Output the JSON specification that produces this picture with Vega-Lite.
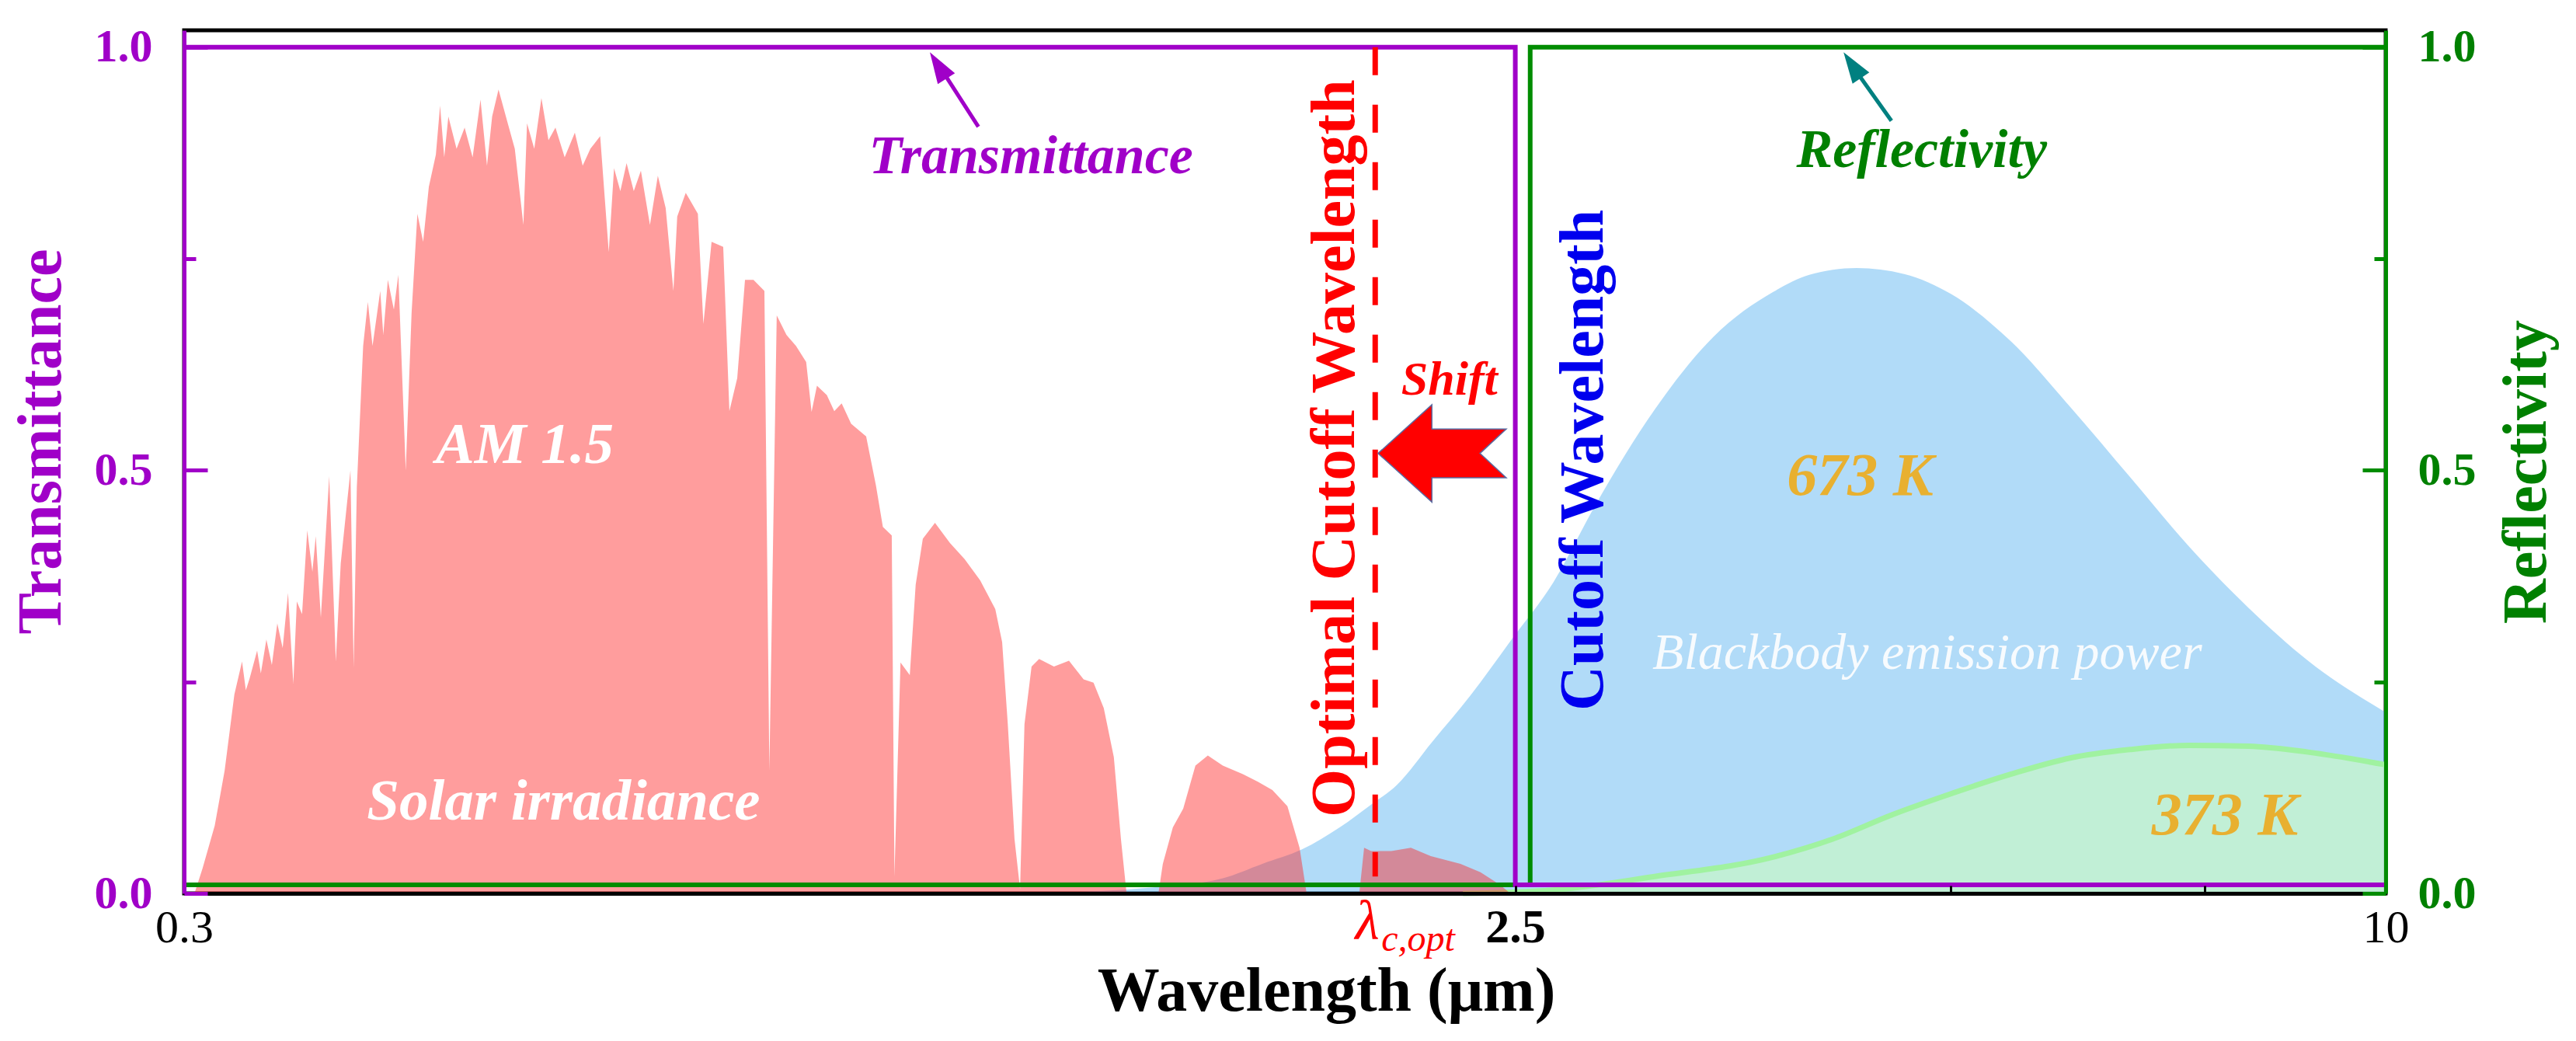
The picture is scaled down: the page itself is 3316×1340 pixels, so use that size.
{
  "$schema": "https://vega.github.io/schema/vega-lite/v6.json",
  "width": 2834,
  "height": 1111,
  "autosize": {"type": "none"},
  "padding": {"left": 237, "top": 39, "right": 245, "bottom": 190},
  "background": "white",
  "config": {"view": {"stroke": "black", "strokeWidth": 5}, "font": "Liberation Serif"},
  "datasets": {
    "trans": [{"i": 1, "x": 0.3, "y": 1}, {"i": 2, "x": 2.5, "y": 1}, {"i": 3, "x": 2.5, "y": 0.01}, {"i": 4, "x": 10, "y": 0.01}],
    "refl": [{"i": 1, "x": 0.3, "y": 0.01}, {"i": 2, "x": 2.56, "y": 0.01}, {"i": 3, "x": 2.56, "y": 1}, {"i": 4, "x": 10, "y": 1}],
    "bb673": [
      {"x": 1.2, "y": 0.001}, {"x": 1.4, "y": 0.007}, {"x": 1.569, "y": 0.018}, {"x": 1.671, "y": 0.035},
      {"x": 1.78, "y": 0.052}, {"x": 1.89, "y": 0.078}, {"x": 1.987, "y": 0.105}, {"x": 2.07, "y": 0.128},
      {"x": 2.19, "y": 0.179}, {"x": 2.328, "y": 0.234}, {"x": 2.48, "y": 0.298}, {"x": 2.657, "y": 0.368},
      {"x": 2.838, "y": 0.458}, {"x": 3.122, "y": 0.572}, {"x": 3.429, "y": 0.658}, {"x": 3.772, "y": 0.711},
      {"x": 3.993, "y": 0.731}, {"x": 4.305, "y": 0.739}, {"x": 4.644, "y": 0.732}, {"x": 5.008, "y": 0.708},
      {"x": 5.508, "y": 0.652}, {"x": 6.05, "y": 0.575}, {"x": 6.655, "y": 0.492}, {"x": 7.311, "y": 0.41},
      {"x": 8.043, "y": 0.337}, {"x": 8.837, "y": 0.275}, {"x": 10, "y": 0.214}
    ],
    "bb373": [
      {"x": 2.3, "y": 0.0}, {"x": 2.654, "y": 0.004}, {"x": 3.122, "y": 0.02}, {"x": 3.772, "y": 0.043},
      {"x": 4.142, "y": 0.064}, {"x": 4.557, "y": 0.093}, {"x": 5.008, "y": 0.118}, {"x": 5.508, "y": 0.141},
      {"x": 6.05, "y": 0.16}, {"x": 6.655, "y": 0.17}, {"x": 7.311, "y": 0.175}, {"x": 8.043, "y": 0.174},
      {"x": 8.837, "y": 0.167}, {"x": 10, "y": 0.152}
    ],
    "solar": [
      {"x": 0.3, "y": 0}, {"x": 0.305, "y": 0}, {"x": 0.309, "y": 0.03}, {"x": 0.315, "y": 0.08},
      {"x": 0.32, "y": 0.145}, {"x": 0.325, "y": 0.235}, {"x": 0.329, "y": 0.274}, {"x": 0.331, "y": 0.24}, {"x": 0.333, "y": 0.254},
      {"x": 0.337, "y": 0.287}, {"x": 0.339, "y": 0.26}, {"x": 0.342, "y": 0.3}, {"x": 0.345, "y": 0.27}, {"x": 0.348, "y": 0.319}, {"x": 0.351, "y": 0.29}, {"x": 0.354, "y": 0.355},
      {"x": 0.357, "y": 0.248}, {"x": 0.359, "y": 0.345}, {"x": 0.362, "y": 0.33}, {"x": 0.365, "y": 0.429}, {"x": 0.368, "y": 0.38}, {"x": 0.37, "y": 0.422},
      {"x": 0.373, "y": 0.326}, {"x": 0.378, "y": 0.493}, {"x": 0.382, "y": 0.274}, {"x": 0.385, "y": 0.39},
      {"x": 0.391, "y": 0.5}, {"x": 0.393, "y": 0.267}, {"x": 0.395, "y": 0.48}, {"x": 0.399, "y": 0.647},
      {"x": 0.402, "y": 0.699}, {"x": 0.405, "y": 0.647}, {"x": 0.41, "y": 0.712}, {"x": 0.412, "y": 0.66}, {"x": 0.415, "y": 0.725},
      {"x": 0.419, "y": 0.69}, {"x": 0.422, "y": 0.731}, {"x": 0.427, "y": 0.5}, {"x": 0.431, "y": 0.686}, {"x": 0.435, "y": 0.803},
      {"x": 0.439, "y": 0.77}, {"x": 0.443, "y": 0.835}, {"x": 0.448, "y": 0.873}, {"x": 0.451, "y": 0.931}, {"x": 0.454, "y": 0.87}, {"x": 0.457, "y": 0.918},
      {"x": 0.463, "y": 0.88}, {"x": 0.469, "y": 0.905}, {"x": 0.475, "y": 0.87}, {"x": 0.481, "y": 0.938}, {"x": 0.486, "y": 0.86}, {"x": 0.49, "y": 0.918}, {"x": 0.495, "y": 0.95},
      {"x": 0.502, "y": 0.912}, {"x": 0.508, "y": 0.88}, {"x": 0.515, "y": 0.79}, {"x": 0.518, "y": 0.91}, {"x": 0.524, "y": 0.88}, {"x": 0.53, "y": 0.94},
      {"x": 0.536, "y": 0.89}, {"x": 0.542, "y": 0.905}, {"x": 0.55, "y": 0.87}, {"x": 0.559, "y": 0.899}, {"x": 0.566, "y": 0.86}, {"x": 0.573, "y": 0.88}, {"x": 0.582, "y": 0.895},
      {"x": 0.59, "y": 0.758}, {"x": 0.595, "y": 0.857}, {"x": 0.601, "y": 0.83}, {"x": 0.607, "y": 0.863}, {"x": 0.614, "y": 0.83}, {"x": 0.621, "y": 0.854},
      {"x": 0.63, "y": 0.79}, {"x": 0.638, "y": 0.848}, {"x": 0.646, "y": 0.81}, {"x": 0.654, "y": 0.712}, {"x": 0.658, "y": 0.8}, {"x": 0.667, "y": 0.828},
      {"x": 0.68, "y": 0.803}, {"x": 0.686, "y": 0.673}, {"x": 0.695, "y": 0.77}, {"x": 0.708, "y": 0.764},
      {"x": 0.715, "y": 0.57}, {"x": 0.724, "y": 0.609}, {"x": 0.733, "y": 0.725}, {"x": 0.743, "y": 0.725},
      {"x": 0.756, "y": 0.712}, {"x": 0.762, "y": 0.145}, {"x": 0.771, "y": 0.683}, {"x": 0.783, "y": 0.66}, {"x": 0.795, "y": 0.647},
      {"x": 0.808, "y": 0.628}, {"x": 0.815, "y": 0.569}, {"x": 0.822, "y": 0.6}, {"x": 0.835, "y": 0.589}, {"x": 0.845, "y": 0.57}, {"x": 0.855, "y": 0.579},
      {"x": 0.868, "y": 0.555}, {"x": 0.889, "y": 0.54}, {"x": 0.903, "y": 0.482}, {"x": 0.913, "y": 0.433},
      {"x": 0.926, "y": 0.423}, {"x": 0.93, "y": 0.02}, {"x": 0.939, "y": 0.273}, {"x": 0.953, "y": 0.258},
      {"x": 0.962, "y": 0.365}, {"x": 0.973, "y": 0.419}, {"x": 0.992, "y": 0.438}, {"x": 1.016, "y": 0.414},
      {"x": 1.04, "y": 0.395}, {"x": 1.066, "y": 0.37}, {"x": 1.092, "y": 0.336}, {"x": 1.104, "y": 0.297},
      {"x": 1.114, "y": 0.2}, {"x": 1.126, "y": 0.064}, {"x": 1.136, "y": 0.005}, {"x": 1.144, "y": 0.2},
      {"x": 1.157, "y": 0.268}, {"x": 1.171, "y": 0.277}, {"x": 1.199, "y": 0.268}, {"x": 1.228, "y": 0.275},
      {"x": 1.257, "y": 0.253}, {"x": 1.277, "y": 0.249}, {"x": 1.298, "y": 0.219}, {"x": 1.319, "y": 0.161},
      {"x": 1.334, "y": 0.064}, {"x": 1.346, "y": 0}, {"x": 1.416, "y": 0}, {"x": 1.426, "y": 0.035},
      {"x": 1.449, "y": 0.078}, {"x": 1.473, "y": 0.1}, {"x": 1.502, "y": 0.151}, {"x": 1.532, "y": 0.163},
      {"x": 1.569, "y": 0.151}, {"x": 1.62, "y": 0.141}, {"x": 1.659, "y": 0.132}, {"x": 1.698, "y": 0.122},
      {"x": 1.739, "y": 0.103}, {"x": 1.773, "y": 0.054}, {"x": 1.793, "y": 0}, {"x": 1.95, "y": 0},
      {"x": 1.965, "y": 0.054}, {"x": 1.987, "y": 0.05}, {"x": 2.052, "y": 0.05}, {"x": 2.117, "y": 0.054},
      {"x": 2.185, "y": 0.044}, {"x": 2.291, "y": 0.035}, {"x": 2.365, "y": 0.025}, {"x": 2.44, "y": 0.01},
      {"x": 2.48, "y": 0}, {"x": 2.5, "y": 0}
    ]
  },
  "encoding": {
    "x": {
      "field": "x", "type": "quantitative",
      "scale": {"type": "log", "domain": [0.3, 10], "nice": false},
      "axis": {
        "values": [0.3, 2.5, 5, 7.5, 10],
        "labelExpr": "datum.value == 2.5 ? '2.5' : (datum.value < 0.31 ? '0.3' : (datum.value > 9.9 ? '10' : ''))",
        "labelFontWeight": {"condition": {"test": "datum.value == 2.5", "value": "bold"}, "value": "normal"},
        "labelFontSize": {"condition": {"test": "datum.value == 2.5", "value": 62}, "value": 60},
        "labelFont": "Liberation Serif", "labelColor": "black", "labelAngle": 0,
        "labelBaseline": "alphabetic", "labelPadding": 72, "labelFlush": false, "labelOverlap": false,
        "tickSize": -10, "tickColor": "black", "tickWidth": 3,
        "domainColor": "black", "domainWidth": 5, "grid": false, "zindex": 1,
        "title": "Wavelength (μm)", "titleFont": "Liberation Serif", "titleFontSize": 80, "titleFontWeight": "bold",
        "titleColor": "black", "titleX": 1470, "titleY": 150, "titleBaseline": "alphabetic", "titleAlign": "center"
      }
    }
  },
  "layer": [
    {
      "data": {"name": "bb673"},
      "mark": {"type": "area", "color": "#45aaee", "opacity": 0.42, "interpolate": "monotone"},
      "encoding": {"y": {"field": "y", "type": "quantitative", "scale": {"domain": [0, 1.02], "nice": false}, "axis": null}}
    },
    {
      "data": {"name": "bb373"},
      "mark": {"type": "area", "color": "#c8f8c8", "opacity": 0.7, "interpolate": "monotone"},
      "encoding": {"y": {"field": "y", "type": "quantitative", "scale": {"domain": [0, 1.02], "nice": false}, "axis": null}}
    },
    {
      "data": {"name": "bb373"},
      "mark": {"type": "line", "color": "#a0f2a0", "strokeWidth": 7, "interpolate": "monotone"},
      "encoding": {"y": {"field": "y", "type": "quantitative", "scale": {"domain": [0, 1.02], "nice": false}, "axis": null}}
    },
    {
      "data": {"name": "solar"},
      "mark": {"type": "area", "color": "#ff2020", "opacity": 0.44, "interpolate": "linear"},
      "encoding": {"y": {"field": "y", "type": "quantitative", "scale": {"domain": [0, 1.02], "nice": false}, "axis": null}}
    },
    {
      "data": {"name": "refl"},
      "mark": {"type": "line", "color": "#008c00", "strokeWidth": 6, "strokeJoin": "miter"},
      "encoding": {
        "order": {"field": "i", "type": "quantitative"},
        "y": {
          "field": "y", "type": "quantitative", "scale": {"domain": [0, 1.02], "nice": false},
          "axis": {
            "orient": "right", "values": [0, 0.25, 0.5, 0.75, 1],
            "labelExpr": "(datum.value == 0 || datum.value == 0.5 || datum.value == 1) ? format(datum.value, '.1f') : ''",
            "labelFont": "Liberation Serif", "labelFontSize": 60, "labelFontWeight": "bold", "labelColor": "#008000",
            "labelPadding": 71, "labelBaseline": "middle", "labelFlush": false, "labelOverlap": false,
            "tickSize": {"condition": {"test": "datum.value == 0 || datum.value == 0.5 || datum.value == 1", "value": -30}, "value": -15},
            "tickColor": "#008c00", "tickWidth": 5, "domainColor": "#008c00", "domainWidth": 5, "grid": false, "zindex": 1,
            "title": "Reflectivity", "titleFont": "Liberation Serif", "titleFontSize": 80, "titleFontWeight": "bold",
            "titleColor": "#008000", "titleAngle": 270, "titleX": 205, "titleY": 568, "titleAlign": "center", "titleBaseline": "alphabetic"
          }
        }
      }
    },
    {
      "data": {"name": "trans"},
      "mark": {"type": "line", "color": "#a000c8", "strokeWidth": 6, "strokeJoin": "miter"},
      "encoding": {
        "order": {"field": "i", "type": "quantitative"},
        "y": {
          "field": "y", "type": "quantitative", "scale": {"domain": [0, 1.02], "nice": false},
          "axis": {
            "orient": "left", "values": [0, 0.25, 0.5, 0.75, 1],
            "labelExpr": "(datum.value == 0 || datum.value == 0.5 || datum.value == 1) ? format(datum.value, '.1f') : ''",
            "labelFont": "Liberation Serif", "labelFontSize": 60, "labelFontWeight": "bold", "labelColor": "#a000c8",
            "labelPadding": 71, "labelBaseline": "middle", "labelFlush": false, "labelOverlap": false,
            "tickSize": {"condition": {"test": "datum.value == 0 || datum.value == 0.5 || datum.value == 1", "value": -30}, "value": -15},
            "tickColor": "#a000c8", "tickWidth": 5, "domainColor": "#a000c8", "domainWidth": 5, "grid": false, "zindex": 1,
            "title": "Transmittance", "titleFont": "Liberation Serif", "titleFontSize": 80, "titleFontWeight": "bold",
            "titleColor": "#a000c8", "titleAngle": 270, "titleX": -160, "titleY": 529, "titleAlign": "center", "titleBaseline": "alphabetic"
          }
        }
      }
    },
    {
      "data": {"values": [{"x": 2.0, "y": 1.0, "y2": 0.02}]},
      "mark": {"type": "rule", "color": "#ff0000", "strokeWidth": 7, "strokeDash": [36, 38]},
      "encoding": {
        "y": {"field": "y", "type": "quantitative", "scale": {"domain": [0, 1.02], "nice": false}, "axis": null},
        "y2": {"field": "y2"}
      }
    },
    {
      "data": {"values": [{"x": 1.063, "y": 0.906, "x2": 0.997, "y2": 0.98}]},
      "mark": {"type": "rule", "color": "#a000c8", "strokeWidth": 5},
      "encoding": {
        "y": {"field": "y", "type": "quantitative", "scale": {"domain": [0, 1.02], "nice": false}, "axis": null},
        "x2": {"field": "x2"}, "y2": {"field": "y2"}
      }
    },
    {
      "data": {"values": [{"x": 0.984, "y": 0.994}]},
      "mark": {"type": "point", "shape": "M0,0L-0.65,2L0.65,2Z", "size": 1600, "angle": -32, "filled": true, "color": "#a000c8", "opacity": 1},
      "encoding": {"y": {"field": "y", "type": "quantitative", "scale": {"domain": [0, 1.02], "nice": false}, "axis": null}}
    },
    {
      "data": {"values": [{"x": 4.551, "y": 0.913, "x2": 4.264, "y2": 0.981}]},
      "mark": {"type": "rule", "color": "#008080", "strokeWidth": 5},
      "encoding": {
        "y": {"field": "y", "type": "quantitative", "scale": {"domain": [0, 1.02], "nice": false}, "axis": null},
        "x2": {"field": "x2"}, "y2": {"field": "y2"}
      }
    },
    {
      "data": {"values": [{"x": 4.217, "y": 0.994}]},
      "mark": {"type": "point", "shape": "M0,0L-0.65,2L0.65,2Z", "size": 1600, "angle": -34, "filled": true, "color": "#008080", "opacity": 1},
      "encoding": {"y": {"field": "y", "type": "quantitative", "scale": {"domain": [0, 1.02], "nice": false}, "axis": null}}
    },
    {
      "data": {"values": [{"x": 2.225, "y": 0.52}]},
      "mark": {"type": "point", "shape": "M-1,0L-0.16,-0.76L-0.16,-0.38L1,-0.38L0.59,0L1,0.38L-0.16,0.38L-0.16,0.76Z", "size": 27225, "filled": true, "fill": "#ff0000", "stroke": "#5a6aa0", "strokeWidth": 1.5, "opacity": 1},
      "encoding": {"y": {"field": "y", "type": "quantitative", "scale": {"domain": [0, 1.02], "nice": false}, "axis": null}}
    },
    {
      "data": {"values": [{"x": 1.156, "y": 0.851, "t": "Transmittance"}]},
      "mark": {"type": "text", "font": "Liberation Serif", "fontSize": 70, "fontWeight": "bold", "fontStyle": "italic", "color": "#a000c8", "align": "center", "baseline": "alphabetic"},
      "encoding": {"y": {"field": "y", "type": "quantitative", "scale": {"domain": [0, 1.02], "nice": false}, "axis": null}, "text": {"field": "t"}}
    },
    {
      "data": {"values": [{"x": 4.776, "y": 0.858, "t": "Reflectivity"}]},
      "mark": {"type": "text", "font": "Liberation Serif", "fontSize": 70, "fontWeight": "bold", "fontStyle": "italic", "color": "#008000", "align": "center", "baseline": "alphabetic"},
      "encoding": {"y": {"field": "y", "type": "quantitative", "scale": {"domain": [0, 1.02], "nice": false}, "axis": null}, "text": {"field": "t"}}
    },
    {
      "data": {"values": [{"x": 1.933, "y": 0.526, "t": "Optimal Cutoff Wavelength"}]},
      "mark": {"type": "text", "font": "Liberation Serif", "fontSize": 80, "fontWeight": "bold", "color": "#ff0000", "align": "center", "baseline": "alphabetic", "angle": 270},
      "encoding": {"y": {"field": "y", "type": "quantitative", "scale": {"domain": [0, 1.02], "nice": false}, "axis": null}, "text": {"field": "t"}}
    },
    {
      "data": {"values": [{"x": 2.873, "y": 0.512, "t": "Cutoff Wavelength"}]},
      "mark": {"type": "text", "font": "Liberation Serif", "fontSize": 80, "fontWeight": "bold", "color": "#0000ee", "align": "center", "baseline": "alphabetic", "angle": 270},
      "encoding": {"y": {"field": "y", "type": "quantitative", "scale": {"domain": [0, 1.02], "nice": false}, "axis": null}, "text": {"field": "t"}}
    },
    {
      "data": {"values": [{"x": 2.251, "y": 0.5895, "t": "Shift"}]},
      "mark": {"type": "text", "font": "Liberation Serif", "fontSize": 62, "fontWeight": "bold", "fontStyle": "italic", "color": "#ff0000", "align": "center", "baseline": "alphabetic"},
      "encoding": {"y": {"field": "y", "type": "quantitative", "scale": {"domain": [0, 1.02], "nice": false}, "axis": null}, "text": {"field": "t"}}
    },
    {
      "data": {"values": [{"x": 0.516, "y": 0.509, "t": "AM 1.5"}, {"x": 0.549, "y": 0.087, "t": "Solar irradiance"}]},
      "mark": {"type": "text", "font": "Liberation Serif", "fontSize": 75, "fontWeight": "bold", "fontStyle": "italic", "color": "white", "align": "center", "baseline": "alphabetic"},
      "encoding": {"y": {"field": "y", "type": "quantitative", "scale": {"domain": [0, 1.02], "nice": false}, "axis": null}, "text": {"field": "t"}}
    },
    {
      "data": {"values": [{"x": 4.33, "y": 0.471, "t": "673 K"}, {"x": 7.74, "y": 0.07, "t": "373 K"}]},
      "mark": {"type": "text", "font": "Liberation Serif", "fontSize": 78, "fontWeight": "bold", "fontStyle": "italic", "color": "#e8b030", "align": "center", "baseline": "alphabetic"},
      "encoding": {"y": {"field": "y", "type": "quantitative", "scale": {"domain": [0, 1.02], "nice": false}, "axis": null}, "text": {"field": "t"}}
    },
    {
      "data": {"values": [{"x": 4.818, "y": 0.265, "t": "Blackbody emission power"}]},
      "mark": {"type": "text", "font": "Liberation Serif", "fontSize": 66, "fontStyle": "italic", "color": "white", "opacity": 0.9, "align": "center", "baseline": "alphabetic"},
      "encoding": {"y": {"field": "y", "type": "quantitative", "scale": {"domain": [0, 1.02], "nice": false}, "axis": null}, "text": {"field": "t"}}
    },
    {
      "data": {"values": [{"x": 1.975, "y": -0.054, "t": "λ"}]},
      "mark": {"type": "text", "font": "Liberation Serif", "fontSize": 72, "fontStyle": "italic", "color": "#ff0000", "align": "center", "baseline": "alphabetic"},
      "encoding": {"y": {"field": "y", "type": "quantitative", "scale": {"domain": [0, 1.02], "nice": false}, "axis": null}, "text": {"field": "t"}}
    },
    {
      "data": {"values": [{"x": 2.02, "y": -0.068, "t": "c,opt"}]},
      "mark": {"type": "text", "font": "Liberation Serif", "fontSize": 48, "fontStyle": "italic", "color": "#ff0000", "align": "left", "baseline": "alphabetic"},
      "encoding": {"y": {"field": "y", "type": "quantitative", "scale": {"domain": [0, 1.02], "nice": false}, "axis": null}, "text": {"field": "t"}}
    }
  ],
  "resolve": {"scale": {"y": "independent"}}
}
